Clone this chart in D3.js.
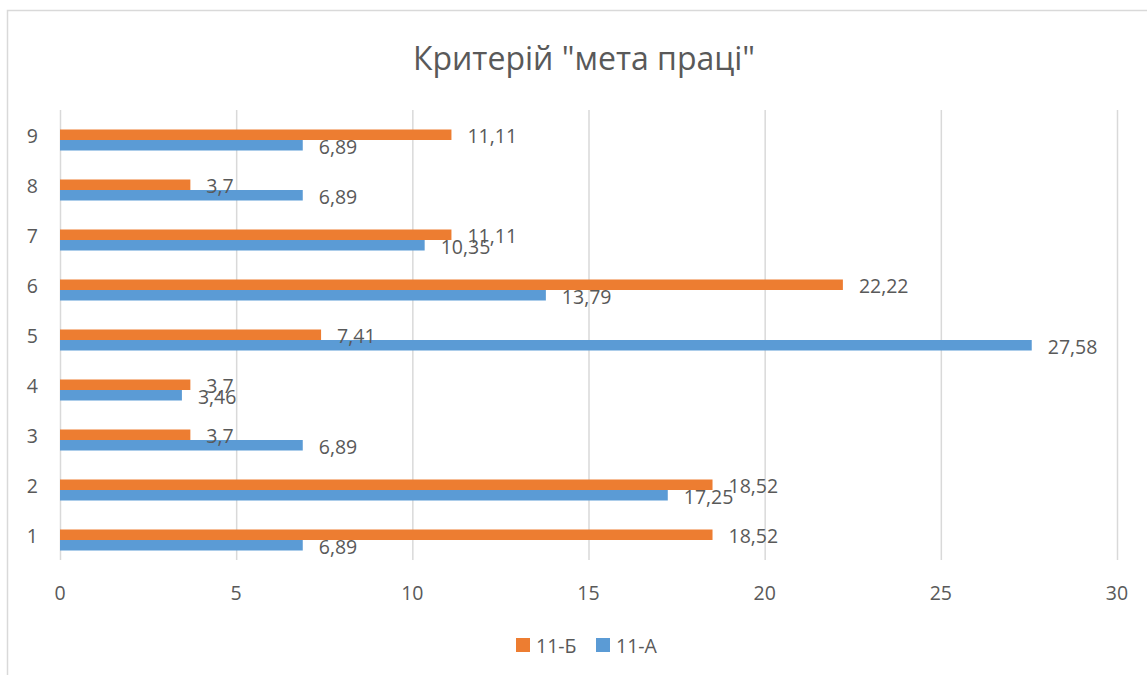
<!DOCTYPE html>
<html><head><meta charset="utf-8">
<script src="https://cdn.jsdelivr.net/npm/d3@7"></script>
<style>body{margin:0;background:#fff}svg{display:block}text{font-family:"Open Sans",sans-serif;fill:#595959}</style>
</head><body><svg id="c" width="1147" height="675"></svg>
<script>
const categories = ["1","2","3","4","5","6","7","8","9"];
const seriesA = [6.89,17.25,6.89,3.46,27.58,13.79,10.35,6.89,6.89]; // 11-А
const seriesB = [18.52,18.52,3.7,3.7,7.41,22.22,11.11,3.7,11.11]; // 11-Б
const seriesNames = ["11-А","11-Б"];
const xTicks = [0,5,10,15,20,25,30];
const title = 'Критерій "мета праці"';
const colors = {"11-А":"#5B9BD5","11-Б":"#ED7D31"};

const svg = d3.select("#c");
svg.append("rect").attr("x",7.5).attr("y",10.5).attr("width",1200).attr("height",800)
  .attr("fill","#fff").attr("stroke","#D9D9D9").attr("stroke-width",1.5);

const x = d3.scaleLinear().domain([0,30]).range([60,1117]);
const y = d3.scaleBand().domain(categories.slice().reverse()).range([110,560]);
const barH = 10.5, off = 5;
const fs = 19.5;

// gridlines
svg.append("g").selectAll("line").data(xTicks).join("line")
  .attr("x1",d=>x(d)+0.5).attr("x2",d=>x(d)+0.5).attr("y1",110).attr("y2",560)
  .attr("stroke","#D9D9D9").attr("stroke-width",1.5);

// x tick labels
svg.append("g").selectAll("text").data(xTicks).join("text")
  .attr("x",d=>x(d)).attr("y",592).attr("text-anchor","middle").attr("dominant-baseline","central")
  .attr("font-size",fs).text(d=>d);

// y labels
svg.append("g").selectAll("text").data(categories).join("text")
  .attr("x",38).attr("y",d=>y(d)+y.bandwidth()/2).attr("text-anchor","end").attr("dominant-baseline","central")
  .attr("font-size",fs).text(d=>d);

const fmt = v => String(v).replace(".",",");
const rows = categories.map((c,i)=>({c, a:seriesA[i], b:seriesB[i]}));
const center = d => y(d.c)+y.bandwidth()/2;

// orange (11-Б) on top
svg.append("g").selectAll("rect").data(rows).join("rect")
  .attr("x",x(0)).attr("y",d=>center(d)-off-0.5).attr("width",d=>x(d.b)-x(0)).attr("height",barH)
  .attr("fill",colors["11-Б"]);
svg.append("g").selectAll("rect").data(rows).join("rect")
  .attr("x",x(0)).attr("y",d=>center(d)+off).attr("width",d=>x(d.a)-x(0)).attr("height",barH)
  .attr("fill",colors["11-А"]);

// labels
svg.append("g").selectAll("text").data(rows).join("text")
  .attr("x",d=>x(d.b)+16).attr("y",d=>center(d)).attr("dominant-baseline","central")
  .attr("font-size",fs).text(d=>fmt(d.b));
svg.append("g").selectAll("text").data(rows).join("text")
  .attr("x",d=>x(d.a)+16).attr("y",d=>center(d)+off+barH/2+1).attr("dominant-baseline","central")
  .attr("font-size",fs).text(d=>fmt(d.a));

// title
svg.append("text").attr("x",584).attr("y",57).attr("text-anchor","middle").attr("dominant-baseline","central")
  .attr("font-size",32).text(title);

// legend
const legend = [{n:"11-Б",x:516},{n:"11-А",x:596}];
const lg = svg.append("g").selectAll("g").data(legend).join("g");
lg.append("rect").attr("x",d=>d.x).attr("y",638).attr("width",14).attr("height",14).attr("fill",d=>colors[d.n]);
lg.append("text").attr("x",d=>d.x+20).attr("y",645).attr("dominant-baseline","central").attr("font-size",fs).text(d=>d.n);
</script></body></html>
